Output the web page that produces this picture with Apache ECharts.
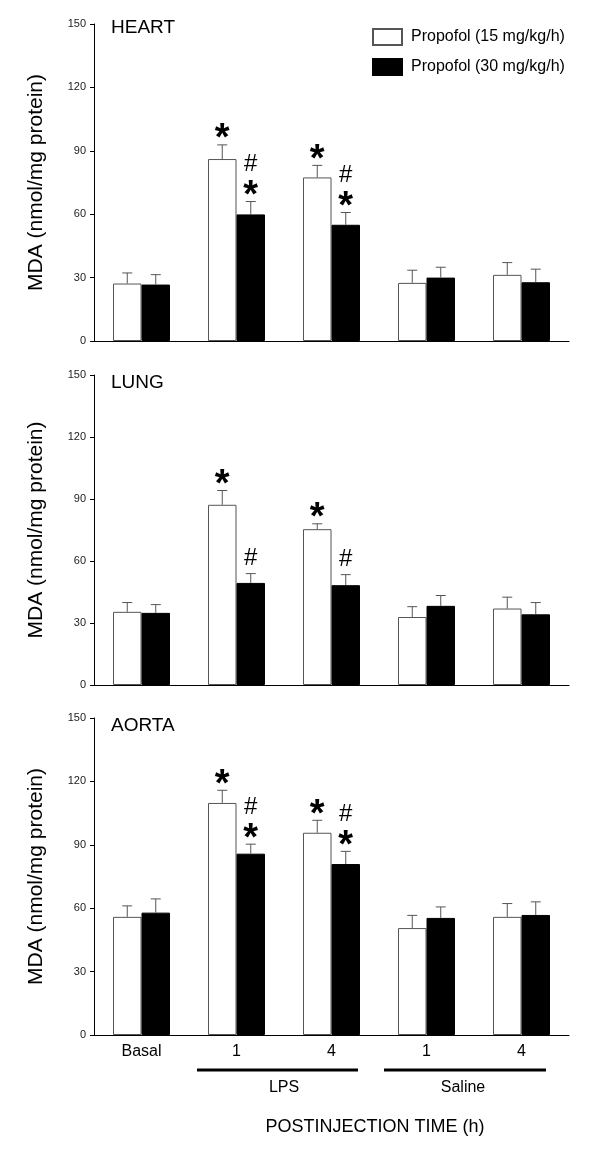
<!DOCTYPE html>
<html>
<head>
<meta charset="utf-8">
<script src="https://cdn.jsdelivr.net/npm/echarts@6/dist/echarts.min.js"></script>
<style>
  html, body { margin: 0; padding: 0; background: #fff; }
  #chart { width: 600px; height: 1153px; }
</style>
</head>
<body>
<div id="chart"></div>
<script>
// ---- data ----
const categories = ['Basal', '1', '4', '1', '4'];
const yTicks = [0, 30, 60, 90, 120, 150];
const seriesNames = ['Propofol (15 mg/kg/h)', 'Propofol (30 mg/kg/h)'];
const panelTitles = ['HEART', 'LUNG', 'AORTA'];

const heartLow = [27.2, 86.1, 77.4, 27.5, 31.3];
const heartLowErr = [5.0, 6.7, 5.7, 6.0, 5.8];
const heartHigh = [26.7, 59.9, 55.0, 30.0, 27.8];
const heartHighErr = [4.7, 6.1, 5.8, 4.9, 6.2];

const lungLow = [35.4, 87.2, 75.4, 32.9, 37.0];
const lungLowErr = [4.5, 6.9, 2.6, 5.0, 5.5];
const lungHigh = [34.9, 49.4, 48.3, 38.3, 34.2];
const lungHighErr = [4.0, 4.5, 5.1, 5.0, 5.7];

const aortaLow = [55.9, 109.8, 95.7, 50.6, 55.9];
const aortaLowErr = [5.2, 6.0, 5.9, 6.0, 6.3];
const aortaHigh = [57.9, 85.8, 80.9, 55.4, 56.8];
const aortaHighErr = [6.5, 4.5, 6.0, 5.2, 6.2];

// significance marks, read top-to-bottom
const heartLowMarks = ['', '*', '*', '', ''];
const heartHighMarks = ['', '#*', '#*', '', ''];
const lungLowMarks = ['', '*', '*', '', ''];
const lungHighMarks = ['', '#', '#', '', ''];
const aortaLowMarks = ['', '*', '*', '', ''];
const aortaHighMarks = ['', '#*', '#*', '', ''];

const groupLabels = ['LPS', 'Saline'];
const xTitle = 'POSTINJECTION TIME (h)';
const yTitle = 'MDA (nmol/mg protein)';

// ---- layout ----
const FONT = '"Liberation Sans", Arial, sans-serif';
const grids = [
  { left: 94, right: 31, top: 24, height: 317 },
  { left: 94, right: 31, top: 375, height: 310 },
  { left: 94, right: 31, top: 718, height: 317 }
];
const panels = [
  { low: heartLow, lowErr: heartLowErr, high: heartHigh, highErr: heartHighErr, lowMarks: heartLowMarks, highMarks: heartHighMarks },
  { low: lungLow, lowErr: lungLowErr, high: lungHigh, highErr: lungHighErr, lowMarks: lungLowMarks, highMarks: lungHighMarks },
  { low: aortaLow, lowErr: aortaLowErr, high: aortaHigh, highErr: aortaHighErr, lowMarks: aortaLowMarks, highMarks: aortaHighMarks }
];

const BAR_FRAC = 0.30;
function sideOffset(api, side) {
  const band = api.size([1, 0])[0];
  return (side === 0 ? -1 : 1) * band * BAR_FRAC / 2;
}

function errRender(side) {
  return function (params, api) {
    const x = api.value(0), v = api.value(1), e = api.value(2);
    const p0 = api.coord([x, v]);
    const p1 = api.coord([x, v + e]);
    const cx = p0[0] + sideOffset(api, side);
    return {
      type: 'group',
      children: [
        { type: 'line', shape: { x1: cx, y1: p0[1], x2: cx, y2: p1[1] }, style: { stroke: '#555', lineWidth: 1 } },
        { type: 'line', shape: { x1: cx - 5, y1: p1[1], x2: cx + 5, y2: p1[1] }, style: { stroke: '#555', lineWidth: 1 } }
      ]
    };
  };
}

function markRender(side, marks) {
  return function (params, api) {
    const idx = params.dataIndex;
    const str = marks[idx];
    if (!str) return null;
    const x = api.value(0), top = api.value(1) + api.value(2);
    const p = api.coord([x, top]);
    const cx = p[0] + sideOffset(api, side);
    const chars = str.split('').reverse();
    const children = chars.map(function (ch, k) {
      const cy = p[1] - 15 - 22 * k;
      const isStar = ch === '*';
      return {
        type: 'text',
        style: {
          text: ch,
          x: cx,
          y: isStar ? cy + 10 : cy,
          align: 'center',
          verticalAlign: 'middle',
          font: isStar ? 'bold 38px ' + FONT : '24px ' + FONT,
          fill: '#000'
        }
      };
    });
    return { type: 'group', children: children };
  };
}

const xAxes = [], yAxes = [], series = [];
panels.forEach(function (pn, i) {
  const last = i === panels.length - 1;
  xAxes.push({
    type: 'category', gridIndex: i, data: categories,
    axisLine: { show: true, lineStyle: { color: '#000', width: 1 } },
    axisTick: { show: false },
    axisLabel: { show: last, fontFamily: FONT, fontSize: 16, color: '#000', margin: 9 }
  });
  yAxes.push({
    type: 'value', gridIndex: i, min: 0, max: 150, interval: 30,
    name: yTitle, nameLocation: 'middle', nameGap: 47,
    nameTextStyle: { fontFamily: FONT, fontSize: 21, color: '#000' },
    axisLine: { show: true, lineStyle: { color: '#000', width: 1 } },
    axisTick: { show: true, length: 4, lineStyle: { color: '#000' } },
    axisLabel: { fontFamily: FONT, fontSize: 11, color: '#222', margin: 8 },
    splitLine: { show: false }
  });
  series.push({
    name: seriesNames[0], type: 'bar', xAxisIndex: i, yAxisIndex: i,
    data: pn.low, barWidth: (BAR_FRAC * 100) + '%', barGap: '0%',
    itemStyle: { color: '#fff', borderColor: '#555', borderWidth: 1 },
    emphasis: { disabled: true }, z: 2
  });
  series.push({
    name: seriesNames[1], type: 'bar', xAxisIndex: i, yAxisIndex: i,
    data: pn.high, barWidth: (BAR_FRAC * 100) + '%', barGap: '0%',
    itemStyle: { color: '#000', borderColor: '#000', borderWidth: 1 },
    emphasis: { disabled: true }, z: 2
  });
  series.push({
    name: 'errLow' + i, type: 'custom', xAxisIndex: i, yAxisIndex: i,
    data: pn.low.map(function (v, k) { return [k, v, pn.lowErr[k]]; }),
    renderItem: errRender(0), z: 3, silent: true
  });
  series.push({
    name: 'errHigh' + i, type: 'custom', xAxisIndex: i, yAxisIndex: i,
    data: pn.high.map(function (v, k) { return [k, v, pn.highErr[k]]; }),
    renderItem: errRender(1), z: 3, silent: true
  });
  series.push({
    name: 'markLow' + i, type: 'custom', xAxisIndex: i, yAxisIndex: i,
    data: pn.low.map(function (v, k) { return [k, v, pn.lowErr[k]]; }),
    renderItem: markRender(0, pn.lowMarks), z: 4, silent: true
  });
  series.push({
    name: 'markHigh' + i, type: 'custom', xAxisIndex: i, yAxisIndex: i,
    data: pn.high.map(function (v, k) { return [k, v, pn.highErr[k]]; }),
    renderItem: markRender(1, pn.highMarks), z: 4, silent: true
  });
});

const titleTops = [29, 384, 727];
const graphics = panelTitles.map(function (t, i) {
  return {
    type: 'text', left: 111, top: titleTops[i] - 11,
    style: { text: t, font: '19px ' + FONT, fill: '#000' }
  };
});
graphics.push(
  { type: 'line', shape: { x1: 197, y1: 1070, x2: 358, y2: 1070 }, style: { stroke: '#000', lineWidth: 3 } },
  { type: 'line', shape: { x1: 384, y1: 1070, x2: 546, y2: 1070 }, style: { stroke: '#000', lineWidth: 3 } },
  { type: 'text', x: 284, y: 1088, style: { text: groupLabels[0], font: '16px ' + FONT, fill: '#000', align: 'center', verticalAlign: 'middle' } },
  { type: 'text', x: 463, y: 1088, style: { text: groupLabels[1], font: '16px ' + FONT, fill: '#000', align: 'center', verticalAlign: 'middle' } },
  { type: 'text', x: 375, y: 1127, style: { text: xTitle, font: '18px ' + FONT, fill: '#000', align: 'center', verticalAlign: 'middle' } }
);

const chart = echarts.init(document.getElementById('chart'), null, { renderer: 'canvas' });
chart.setOption({
  backgroundColor: '#fff',
  animation: false,
  grid: grids,
  xAxis: xAxes,
  yAxis: yAxes,
  legend: {
    data: [
      { name: seriesNames[0], icon: 'rect' },
      { name: seriesNames[1], icon: 'rect' }
    ],
    orient: 'vertical', left: 372, top: 28, padding: 0,
    itemWidth: 29, itemHeight: 16, itemGap: 12,
    textStyle: { fontFamily: FONT, fontSize: 16, color: '#000', padding: [0, 0, 0, 4] },
    selectedMode: false
  },
  series: series,
  graphic: graphics
});
</script>
</body>
</html>
